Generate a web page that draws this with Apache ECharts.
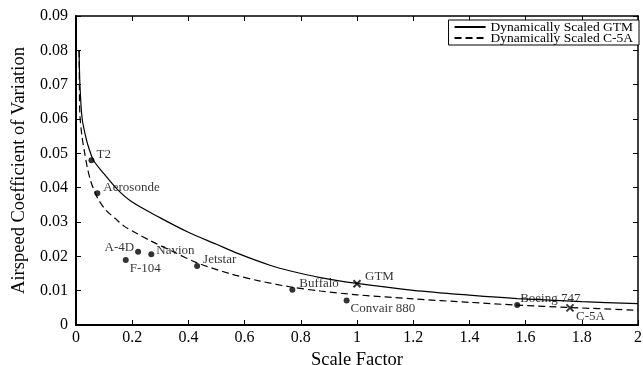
<!DOCTYPE html>
<html>
<head>
<meta charset="utf-8">
<script src="https://cdn.jsdelivr.net/npm/echarts@6/dist/echarts.min.js"></script>
<style>
html, body { margin: 0; padding: 0; background: #fff; }
#chart { width: 643px; height: 365px; }
</style>
</head>
<body>
<div id="chart"></div>
<script>
// curves
var gtmX = [0.011, 0.014, 0.022, 0.037, 0.046, 0.062, 0.1, 0.147, 0.2, 0.3, 0.4, 0.5, 0.58, 0.69, 0.76, 0.87, 1.0, 1.2, 1.4, 1.57, 1.8, 2.0]
var gtmY = [0.080, 0.070, 0.060, 0.054, 0.0515, 0.048, 0.044, 0.0395, 0.0358, 0.0312, 0.0270, 0.0235, 0.0207, 0.0174, 0.0158, 0.0138, 0.0121, 0.0101, 0.0087, 0.0077, 0.0068, 0.0062]
var c5aX = [0.011, 0.012, 0.014, 0.022, 0.03, 0.04, 0.052, 0.064, 0.08, 0.106, 0.14, 0.171, 0.22, 0.266, 0.35, 0.431, 0.55, 0.655, 0.77, 0.87, 1.0, 1.2, 1.4, 1.57, 1.758, 2.0]
var c5aY = [0.080, 0.070, 0.061, 0.0545, 0.0505, 0.046, 0.042, 0.0393, 0.0365, 0.0335, 0.0310, 0.0288, 0.0265, 0.0245, 0.0212, 0.0181, 0.0149, 0.0128, 0.0110, 0.0099, 0.0088, 0.0076, 0.0066, 0.0058, 0.0051, 0.0043]

// aircraft
var dotNames = ['T2', 'Aerosonde', 'A-4D', 'F-104', 'Navion', 'Jetstar', 'Buffalo', 'Convair 880', 'Boeing 747']
var dotX = [0.055, 0.076, 0.221, 0.177, 0.268, 0.431, 0.770, 0.963, 1.570]
var dotY = [0.0480, 0.0384, 0.0213, 0.0189, 0.0206, 0.0172, 0.0103, 0.0071, 0.0058]
var crossNames = ['GTM', 'C-5A']
var crossX = [1.0, 1.758]
var crossY = [0.0120, 0.0050]

var seriesNames = ['Dynamically Scaled GTM', 'Dynamically Scaled C-5A']

// where each name sits next to its marker
var labelPlace = {
  'T2': ['right', [2, -6]],
  'Aerosonde': ['right', [3, -6]],
  'A-4D': ['left', [-1, -4]],
  'F-104': ['right', [1, 8]],
  'Navion': ['right', [2, -4]],
  'Jetstar': ['right', [3, -6]],
  'Buffalo': ['right', [4, -6]],
  'Convair 880': ['right', [1, 8]],
  'GTM': ['right', [2, -7]],
  'Boeing 747': ['right', [0, -7]],
  'C-5A': ['right', [0, 9]]
}

var font = 'Liberation Serif'

function pairs(xs, ys) {
  return xs.map(function(x, i) { return [x, ys[i]] })
}

function points(names, xs, ys) {
  return names.map(function(n, i) {
    var p = labelPlace[n]
    return {
      name: n,
      value: [xs[i], ys[i]],
      label: { show: true, position: p[0], offset: p[1], distance: 0 }
    }
  })
}

function frameAxis(pos, extra) {
  var a = {
    type: 'value',
    position: pos,
    axisLine: { show: true, onZero: false, lineStyle: { color: '#000', width: (pos === 'left' || pos === 'bottom') ? 2 : 1.5 } },
    axisTick: { show: true, inside: true, length: 5, lineStyle: { color: '#000', width: 1 } },
    splitLine: { show: false },
    axisLabel: { show: false }
  }
  return Object.assign(a, extra)
}

var chart = echarts.init(document.getElementById('chart'))
chart.setOption({
  animation: false,
  textStyle: { fontFamily: font },
  grid: { left: 76, right: 5, top: 16, bottom: 40, outerBoundsMode: 'none', containLabel: false },
  legend: {
    orient: 'vertical',
    right: 4,
    top: 20,
    data: seriesNames,
    itemWidth: 31,
    itemHeight: 10,
    itemGap: -3,
    padding: [0, 6, 0, 5],
    borderColor: '#000',
    borderWidth: 1,
    backgroundColor: '#fff',
    itemStyle: { opacity: 0 },
    textStyle: { fontFamily: font, fontSize: 13.5, color: '#000', lineHeight: 10, height: 10 }
  },
  xAxis: [
    frameAxis('bottom', {
      min: 0, max: 2, interval: 0.2,
      name: 'Scale Factor',
      nameLocation: 'middle',
      nameGap: 18,
      nameTextStyle: { fontFamily: font, fontSize: 18.5, color: '#000' },
      axisLabel: {
        show: true, margin: 5, fontFamily: font, fontSize: 16, color: '#000',
        formatter: function(v) { return String(parseFloat(v.toFixed(1))) }
      }
    }),
    frameAxis('top', { min: 0, max: 2, interval: 0.2 })
  ],
  yAxis: [
    frameAxis('left', {
      min: 0, max: 0.09, interval: 0.01,
      name: 'Airspeed Coefficient of Variation',
      nameLocation: 'middle',
      nameGap: 37,
      nameTextStyle: { fontFamily: font, fontSize: 18.5, color: '#000' },
      axisLabel: {
        show: true, margin: 8, fontFamily: font, fontSize: 16, color: '#000',
        formatter: function(v) { return v === 0 ? '0' : v.toFixed(2) }
      }
    }),
    frameAxis('right', { min: 0, max: 0.09, interval: 0.01 })
  ],
  series: [
    {
      name: seriesNames[0],
      type: 'line',
      data: pairs(gtmX, gtmY),
      smooth: 0.3,
      symbol: 'none',
      itemStyle: { color: '#000' },
      lineStyle: { color: '#000', width: 1.2, type: 'solid' }
    },
    {
      name: seriesNames[1],
      type: 'line',
      data: pairs(c5aX, c5aY),
      smooth: 0.3,
      symbol: 'none',
      itemStyle: { color: '#000' },
      lineStyle: { color: '#000', width: 1.2, type: [7, 4] }
    },
    {
      type: 'scatter',
      symbol: 'circle',
      symbolSize: 6,
      itemStyle: { color: '#000' },
      label: { fontFamily: font, fontSize: 13, color: '#000', formatter: '{b}' },
      data: points(dotNames, dotX, dotY),
      z: 5
    },
    {
      type: 'scatter',
      symbol: 'path://M0,0L10,10M10,0L0,10',
      symbolSize: 7,
      itemStyle: { color: 'none', borderColor: '#000', borderWidth: 2 },
      label: { fontFamily: font, fontSize: 13, color: '#000', formatter: '{b}' },
      data: points(crossNames, crossX, crossY),
      z: 5
    }
  ]
})
</script>
</body>
</html>
